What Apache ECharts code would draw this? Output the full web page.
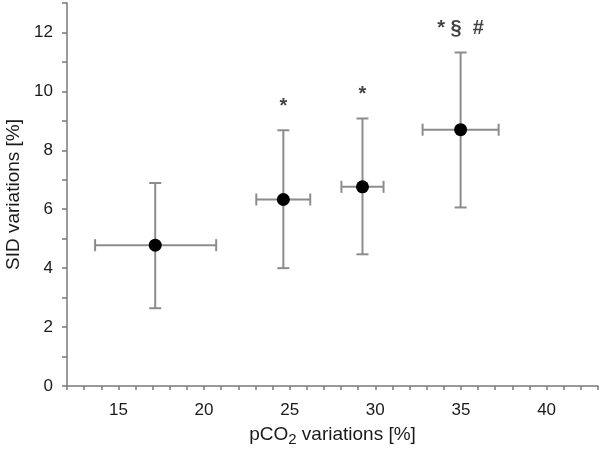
<!DOCTYPE html>
<html><head><meta charset="utf-8">
<script src="https://cdn.jsdelivr.net/npm/echarts@6/dist/echarts.min.js"></script>
<style>html,body{margin:0;padding:0;background:#fff}#c{width:600px;height:450px}</style>
</head><body><div id="c"></div>
<script>
const xMean = [17.15, 24.63, 29.25, 34.98];
const yMean = [4.78, 6.33, 6.76, 8.70];
const xLow  = [13.64, 23.05, 28.02, 32.76];
const xHigh = [20.71, 26.20, 30.48, 37.20];
const yLow  = [2.64, 4.00, 4.47, 6.06];
const yHigh = [6.89, 8.68, 9.08, 11.32];
const marks = ['', '*', '*', '* §  #'];
const xTickLabels = [15, 20, 25, 30, 35, 40];
const yTickLabels = [0, 2, 4, 6, 8, 10, 12];

const errData = xMean.map((x, i) => [x, yMean[i], xLow[i], xHigh[i], yLow[i], yHigh[i]]);
const ptData = xMean.map((x, i) => [x, yMean[i]]);
const markData = xMean.map((x, i) => ({value: [x, yHigh[i]], label: {formatter: marks[i]}}));

const chart = echarts.init(document.getElementById('c'));
const font = 'Liberation Sans, Arial, sans-serif';
const axisCol = '#7a7a7a';
chart.setOption({
  animation: false,
  textStyle: {fontFamily: font},
  grid: {left: 67, right: 2, top: 3, bottom: 64, containLabel: false, outerBoundsMode: 'none'},
  xAxis: {
    type: 'value', min: 12, max: 43, interval: 1,
    axisLine: {lineStyle: {color: axisCol, width: 1.5}},
    axisTick: {show: true, length: 4, lineStyle: {color: axisCol, width: 1.5}},
    splitLine: {show: false},
    axisLabel: {color: '#1a1a1a', fontSize: 17, margin: 16, fontFamily: font,
      formatter: v => xTickLabels.indexOf(v) >= 0 ? String(v) : ''},
    name: 'pCO{sub|2} variations [%]', nameLocation: 'middle', nameGap: 37,
    nameTextStyle: {color: '#1a1a1a', fontSize: 19, fontFamily: font,
      rich: {sub: {fontSize: 15, fontFamily: font, color: '#1a1a1a', padding: [9, 0, 0, 0]}}}
  },
  yAxis: {
    type: 'value', min: 0, max: 13, interval: 1,
    axisLine: {show: true, lineStyle: {color: axisCol, width: 1.5}},
    axisTick: {show: true, length: 5, lineStyle: {color: axisCol, width: 1.5}},
    splitLine: {show: false},
    axisLabel: {color: '#1a1a1a', fontSize: 17, margin: 14, fontFamily: font,
      formatter: v => yTickLabels.indexOf(v) >= 0 ? String(v) : ''},
    name: 'SID variations [%]', nameLocation: 'middle', nameGap: 38, nameRotate: 90,
    nameTextStyle: {color: '#1a1a1a', fontSize: 19, fontFamily: font}
  },
  series: [
    {
      type: 'custom', data: errData, z: 2,
      renderItem: function (params, api) {
        const c = api.coord([api.value(0), api.value(1)]);
        const xl = api.coord([api.value(2), api.value(1)]);
        const xh = api.coord([api.value(3), api.value(1)]);
        const yl = api.coord([api.value(0), api.value(4)]);
        const yh = api.coord([api.value(0), api.value(5)]);
        const cap = 6;
        const st = {stroke: '#8c8c8c', lineWidth: 2};
        const L = (x1, y1, x2, y2) => ({type: 'line', shape: {x1, y1, x2, y2}, style: st});
        return {type: 'group', children: [
          L(xl[0], c[1], xh[0], c[1]),
          L(xl[0], c[1] - cap, xl[0], c[1] + cap),
          L(xh[0], c[1] - cap, xh[0], c[1] + cap),
          L(c[0], yl[1], c[0], yh[1]),
          L(c[0] - cap, yl[1], c[0] + cap, yl[1]),
          L(c[0] - cap, yh[1], c[0] + cap, yh[1])
        ]};
      }
    },
    {
      type: 'scatter', data: ptData, symbol: 'circle', symbolSize: 13, z: 3,
      itemStyle: {color: '#000', opacity: 1}
    },
    {
      type: 'scatter', data: markData, symbolSize: 0, z: 4,
      label: {show: true, position: 'top', distance: 14, color: '#111', fontSize: 20, fontWeight: 'bold', fontFamily: font}
    }
  ]
});
</script></body></html>
